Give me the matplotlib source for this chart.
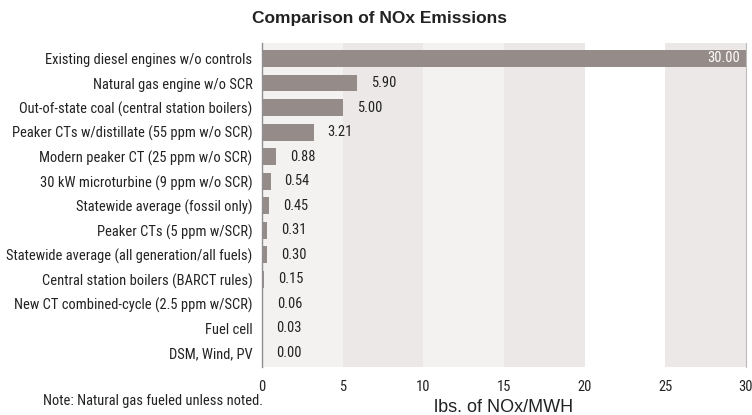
import matplotlib
matplotlib.use("Agg")
import matplotlib.pyplot as plt
from matplotlib import font_manager
from matplotlib.font_manager import FontProperties

categories = [
    "Existing diesel engines w/o controls",
    "Natural gas engine w/o SCR",
    "Out-of-state coal (central station boilers)",
    "Peaker CTs w/distillate (55 ppm w/o SCR)",
    "Modern peaker CT (25 ppm w/o SCR)",
    "30 kW microturbine (9 ppm w/o SCR)",
    "Statewide average (fossil only)",
    "Peaker CTs (5 ppm w/SCR)",
    "Statewide average (all generation/all fuels)",
    "Central station boilers (BARCT rules)",
    "New CT combined-cycle (2.5 ppm w/SCR)",
    "Fuel cell",
    "DSM, Wind, PV",
]
values = [30.00, 5.90, 5.00, 3.21, 0.88, 0.54, 0.45, 0.31, 0.30, 0.15, 0.06, 0.03, 0.00]
xticks = [0, 5, 10, 15, 20, 25, 30]
band_colors = ["#f4f2f1", "#ebe8e7", "#f4f2f1", "#ebe8e7", "#ffffff", "#ebe8e7"]


def pick_condensed():
    cands = []
    for f in font_manager.fontManager.ttflist:
        nm = f.name
        st = f.stretch
        is_cond = ("Condensed" in nm or "Narrow" in nm or
                   st in ("condensed", "semi-condensed", "extra-condensed") or
                   (isinstance(st, (int, float)) and st < 500))
        low = f.fname.lower()
        if not is_cond:
            if "condensed" in low or "narrow" in low:
                is_cond = True
        if not is_cond:
            continue
        if f.style != "normal":
            continue
        w = f.weight
        if isinstance(w, str):
            w = {"normal": 400, "regular": 400, "book": 400}.get(w, 700 if "bold" in w else 400)
        if w != 400:
            continue
        if "mono" in low or "serif" in low and "sans" not in low:
            continue
        score = 0
        for i, key in enumerate(["liberation", "arial", "roboto", "dejavu", "noto", "open"]):
            if key in low:
                score = 10 - i
        if "extra" in low or "semi" in low:
            score -= 3
        cands.append((score, f.fname))
    if cands:
        cands.sort(reverse=True)
        return FontProperties(fname=cands[0][1])
    return FontProperties(family="Liberation Sans")


base_fp = pick_condensed()

fig = plt.figure(figsize=(7.52, 4.15), dpi=100)
renderer = fig.canvas.get_renderer()

# size the condensed font so the first label matches the reference width
probe = fig.text(0, 0, categories[0], fontproperties=base_fp, fontsize=10)
w10 = probe.get_window_extent(renderer).width
probe.remove()
lab_size = 10 * 204.0 / w10
lab_size = min(lab_size, 12)
fp = base_fp.copy()
fp.set_size(lab_size)

ax = fig.add_axes([262 / 752, 1 - 367 / 415, (746 - 262) / 752, (367 - 43) / 415])

for i in range(len(xticks) - 1):
    ax.axvspan(xticks[i], xticks[i + 1], color=band_colors[i], zorder=0, lw=0)

ypos = list(range(len(categories)))
ax.barh(ypos, values, height=0.69, color="#958b89", zorder=2)
ax.set_ylim(len(categories) - 1 + 0.57, -0.63)
ax.set_xlim(0, 30)

for y, v in zip(ypos, values):
    if v >= 29:
        ax.annotate(f"{v:.2f}", (v, y), xytext=(-4, 0), textcoords="offset points",
                    ha="right", va="center", color="white", fontproperties=fp, zorder=3)
    else:
        ax.annotate(f"{v:.2f}", (v, y), xytext=(10, 0), textcoords="offset points",
                    ha="left", va="center", color="#222222", fontproperties=fp, zorder=3)

ax.set_yticks(ypos)
ax.set_yticklabels(categories, fontproperties=fp, color="#222222")
ax.set_xticks(xticks)
ax.set_xticklabels([str(t) for t in xticks], fontproperties=fp, color="#222222")
ax.tick_params(axis="both", length=0)
ax.tick_params(axis="x", pad=9)
ax.tick_params(axis="y", pad=7)

for s in ["top", "bottom"]:
    ax.spines[s].set_visible(False)
ax.spines["left"].set_color("#8f8f8f")
ax.spines["right"].set_color("#bbbbbb")
ax.spines["left"].set_linewidth(1.0)
ax.spines["right"].set_linewidth(0.8)

fig.text(504 / 752, 1 - 407 / 415, "lbs. of NOx/MWH", ha="center", va="center",
         fontsize=13, color="#222222", family="Liberation Sans")
fig.text(379 / 752, 1 - 18 / 415, "Comparison of NOx Emissions", ha="center", va="center",
         fontsize=12.5, fontweight="bold", family="Liberation Sans", color="#222222")
fig.text(43 / 752, 1 - 401 / 415, "Note: Natural gas fueled unless noted.", ha="left",
         va="center", fontproperties=fp, color="#222222")

fig.savefig("out.png", dpi=100)
